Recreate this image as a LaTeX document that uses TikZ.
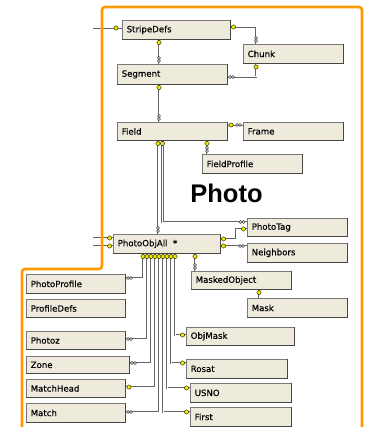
\documentclass[tikz,border=0pt]{standalone}
\usepackage{fontspec}
\setmainfont{DejaVu Sans}
\newfontfamily\photofont{Liberation Sans}
\newfontfamily\tblfont[FakeBold=0.4]{DejaVu Sans}
\usetikzlibrary{calc}
\definecolor{boxfill}{RGB}{238,235,221}
\definecolor{boxline}{RGB}{120,120,120}
\definecolor{boxdark}{RGB}{70,70,70}
\definecolor{orng}{RGB}{255,153,0}
\definecolor{keyy}{RGB}{240,230,0}
\definecolor{keyd}{RGB}{60,60,10}
\definecolor{lnc}{RGB}{100,100,100}
\newcommand\mytbl[6]{%
  \node[tblbox, minimum width=#4, minimum height=#5] (#1) at (#2,#3) {};
  \draw[boxdark, line width=0.9pt] (#1.north east) -- (#1.south east) -- (#1.south west);
  \node[tbltext] (#1t) at ([xshift=4.5]#1.west) {#6};}
\newcommand\keyic[1]{\fill[keyy, draw=keyd, line width=0.5pt] #1 circle (2.1pt);}
\newcommand\infh[1]{\draw[black!75, fill=white, line width=0.55pt] ($#1+(-1.5,0)$) circle (1.4pt) ($#1+(1.5,0)$) circle (1.4pt);}
\newcommand\infv[1]{\draw[black!75, fill=white, line width=0.55pt] ($#1+(0,-1.5)$) circle (1.4pt) ($#1+(0,1.5)$) circle (1.4pt);}
\begin{document}
\begin{tikzpicture}[x=1pt,y=-1pt,
  tblbox/.style={draw=boxline, fill=boxfill, line width=0.8pt, anchor=north west, inner sep=0pt},
  tbltext/.style={anchor=west, inner sep=0pt, font=\tblfont\fontsize{8.6}{10}\selectfont, text=black},
  conn/.style={draw=lnc, line width=0.7pt, double=white, double distance=1pt},
  frame/.style={draw=orng, line width=2.6pt, rounded corners=3pt}]
\useasboundingbox (0,0) rectangle (364,427);
% title
\node[font=\photofont\bfseries\fontsize{25.5}{28}\selectfont, anchor=base, inner sep=0pt] (photo) at (226.5,203) {Photo};
% tables
\mytbl{sd}{122}{20}{108}{19}{StripeDefs}
\mytbl{ch}{243}{44}{100}{19}{Chunk}
\mytbl{seg}{117}{64}{110}{20}{Segment}
\mytbl{fld}{117}{122}{110}{18}{Field}
\mytbl{frm}{243}{122}{100}{18}{Frame}
\mytbl{fp}{202}{154}{100}{19}{FieldProfile}
\mytbl{pt}{247}{218}{100}{18}{PhotoTag}
\mytbl{poa}{113}{234}{107}{19}{PhotoObjAll~~*}
\mytbl{nb}{247}{243}{100}{19}{Neighbors}
\mytbl{mo}{191}{271}{100}{18}{MaskedObject}
\mytbl{mk}{247}{298}{100}{19}{Mask}
\mytbl{om}{186}{327}{108}{18}{ObjMask}
\mytbl{ro}{186}{359}{101}{19}{Rosat}
\mytbl{us}{190}{383}{101}{19}{USNO}
\mytbl{fi}{190}{407}{101}{19}{First}
\mytbl{pp}{26}{274}{99}{19}{PhotoProfile}
\mytbl{pd}{26}{299}{99}{18}{ProfileDefs}
\mytbl{pz}{26}{331}{99}{18}{Photoz}
\mytbl{zn}{26}{356}{103}{17}{Zone}
\mytbl{mh}{26}{379}{99}{18}{MatchHead}
\mytbl{ma}{26}{403}{99}{19}{Match}
% free ends
\coordinate (lsd) at (93,28);
\coordinate (lp1) at (93,238);
\coordinate (lp2) at (93,246);
% connectors
\draw[conn] (lsd) -- (sd.west |- lsd);
\draw[conn] (sd.east |- 0,27) -| (ch.north -| 256,0);
\draw[conn] (seg.east |- 0,77) -| (ch.south -| 256,0);
\draw[conn] (sd.south -| 159,0) -- (seg.north -| 159,0);
\draw[conn] (seg.south -| 159,0) -- (fld.north -| 159,0);
\draw[conn] (fld.east |- 0,125) -- (frm.west |- 0,125);
\draw[conn] (fld.south -| 207,0) -- (fp.north -| 207,0);
\draw[conn] (fld.south -| 158,0) -- (poa.north -| 158,0);
\draw[conn] (fld.south -| 162.5,0) |- (pt.west |- 0,222);
\draw[conn] (poa.east |- 0,239) -- (236,239) -- (236,229) -- (pt.west |- 0,229);
\draw[conn] (poa.east |- 0,246) -- (nb.west |- 0,246);
\draw[conn] (lp1) -- (poa.west |- lp1);
\draw[conn] (lp2) -- (poa.west |- lp2);
\draw[conn] (poa.south -| 195,0) -- (mo.north -| 195,0);
\draw[conn] (mo.south -| 259,0) -- (mk.north -| 259,0);
\draw[conn] (poa.south -| 143,0) |- (pp.east |- 0,278);
\draw[conn] (poa.south -| 147,0) |- (pz.east |- 0,339);
\draw[conn] (poa.south -| 151,0) |- (zn.east |- 0,363);
\draw[conn] (poa.south -| 155,0) |- (mh.east |- 0,387);
\draw[conn] (poa.south -| 159,0) |- (ma.east |- 0,412);
\draw[conn] (poa.south -| 163,0) |- (fi.west |- 0,412);
\draw[conn] (poa.south -| 167,0) |- (us.west |- 0,388);
\draw[conn] (poa.south -| 171,0) |- (ro.west |- 0,363);
\draw[conn] (poa.south -| 175,0) |- (om.west |- 0,335);
% key ends
\keyic{(116,28)}
\keyic{(233.5,27)}
\keyic{(256,67)}
\keyic{(159,42.5)}
\keyic{(159,87.5)}
\keyic{(231,125)}
\keyic{(207,143.5)}
\keyic{(158,143.5)}
\keyic{(162.5,143.5)}
\keyic{(243.5,229)}
\keyic{(223.5,239)}
\keyic{(223.5,246)}
\keyic{(109.5,238)}
\keyic{(109.5,246)}
\keyic{(195,256.5)}
\keyic{(259,292.5)}
\foreach \kx in {143,147,151,155,159,163,167,171,175} {\keyic{(\kx,256.5)}}
\keyic{(129,387)}
\keyic{(186.5,412)}
\keyic{(186.5,388)}
\keyic{(182.5,363)}
\keyic{(182.5,335)}
% many ends
\infv{(256,39.5)}
\infh{(231.5,77)}
\infv{(159,59.5)}
\infv{(159,117.5)}
\infh{(238.5,125)}
\infv{(207,149.5)}
\infv{(158,229.5)}
\infh{(242,222)}
\infh{(241.5,246)}
\infv{(195,266.5)}
\infh{(129.5,278)}
\infh{(129.5,339)}
\infh{(133.5,363)}
\infh{(129.5,412)}
% orange frame on top
\draw[frame] (22,430) -- (22,269) -- (102,269) -- (102,7) -- (362,7) -- (362,430);
\end{tikzpicture}
\end{document}
